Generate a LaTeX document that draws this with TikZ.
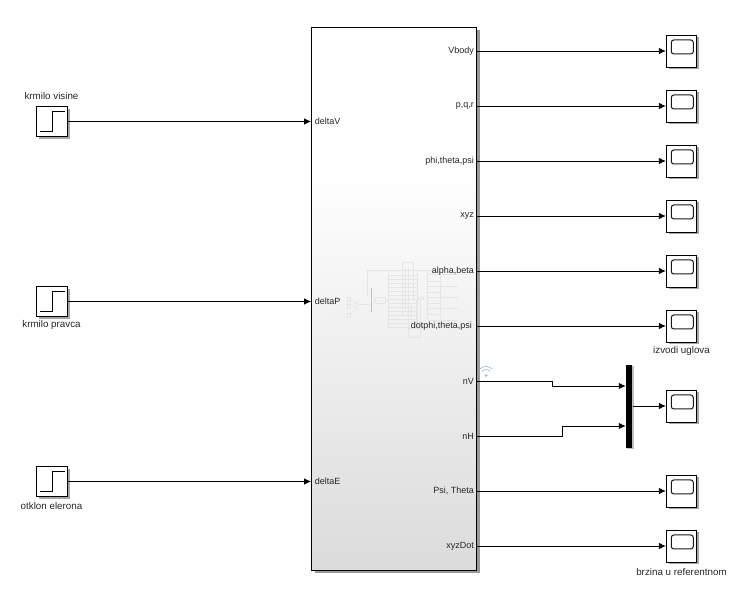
\documentclass[tikz,border=0pt]{standalone}
\usepackage{fontspec}
\setmainfont{Liberation Sans}
\usetikzlibrary{shadows,arrows.meta}
\definecolor{wifiblue}{RGB}{150,190,225}
\pgfdeclareverticalshading{bodyshade}{100bp}{color(0bp)=(black!14); color(25bp)=(black!14); color(62bp)=(white); color(75bp)=(white); color(100bp)=(white)}
\newcommand{\labelfont}{\fontsize{9.8}{12}\selectfont}
\newcommand{\portfont}{\fontsize{9}{11}\selectfont}

\begin{document}
\begin{tikzpicture}[x=1pt,y=-1pt,
    softshadow/.style={drop shadow={shadow xshift=2.5pt,shadow yshift=-2.5pt,opacity=.35,fill=black}},
    stepblock/.style={draw, rectangle, fill=white, minimum width=30.5pt, minimum height=30.5pt, inner sep=0pt, line width=.8pt, softshadow,
        path picture={\draw[line width=.8pt] (path picture bounding box.center) ++(-12,10) -- ++(12.5,0) -- ++(0,-20) -- ++(12.5,0);}},
    scopeblock/.style={draw, rectangle, fill=white, minimum width=30.5pt, minimum height=32pt, inner sep=0pt, line width=.8pt, softshadow,
        path picture={\draw[line width=1pt, rounded corners=2.5pt, black!90] (path picture bounding box.center) ++(-10.2,-11) rectangle ++(22,14);}},
    bodyblock/.style={draw, rectangle, shading=bodyshade, minimum width=165pt, minimum height=543pt, inner sep=0pt, line width=.8pt, drop shadow={shadow xshift=3pt,shadow yshift=-3pt,opacity=.4,fill=black}},
    muxblock/.style={rectangle, fill=black, minimum width=6.5pt, minimum height=83pt, inner sep=0pt, drop shadow={shadow xshift=1.5pt,shadow yshift=-1.5pt,opacity=.25,fill=black}},
    inport/.style={anchor=west, inner xsep=3.5pt, inner ysep=0pt, font=\portfont, text=black!85},
    outport/.style={anchor=east, inner xsep=2.5pt, inner ysep=0pt, font=\portfont, text=black!85},
    blocklabel/.style={inner sep=0pt, font=\labelfont, text=black!85},
    conn/.style={line width=.8pt, -{Latex[length=7pt,width=6.5pt]}},
    thumb/.style={line width=.4pt, black!10},
    wifi/.style={line width=.7pt, wifiblue}]
    \useasboundingbox (0,0) rectangle (756,609);

    % Big subsystem
    \node[bodyblock] (body) at (394,298.5) {};

    % Thumbnail inside the subsystem
    \draw[thumb] (347,297) rectangle (350,301) (347,304) rectangle (350,308) (347,313) rectangle (350,317);
    \draw[thumb] (328,305) -- (347,305) (328,315) -- (347,315) (350,299) -- (356,304) (350,306) -- (356,306) (350,315) -- (356,308);
    \draw[thumb] (356,301) -- (356,309) (358,304) -- (370,304);
    \draw[thumb, black!25] (370.7,288) -- (370.7,312);
    \draw[thumb] (367,270) -- (433,270) (367,270) -- (367,296) (375,297) rectangle (385,303) (371,300) -- (375,300) (385,300) -- (388,300);
    \draw[thumb] (388,273) -- (388,327) (417,273) -- (417,327);
    \draw[thumb] (388,275) -- (417,275) (388,279) -- (417,279) (388,283) -- (417,283) (388,287) -- (417,287) (388,291) -- (417,291) (388,295) -- (417,295);
    \draw[thumb] (388,299) -- (417,299) (388,303) -- (417,303) (388,307) -- (417,307) (388,311) -- (417,311) (388,315) -- (417,315) (388,319) -- (417,319) (388,323) -- (417,323) (388,327) -- (417,327);
    \draw[thumb] (402,262) -- (413,262) (402,262) -- (402,315) (413,262) -- (413,300) (405,268) -- (405,310) (408,268) -- (408,328) (411,305) -- (411,328) (416,300) -- (416,328);
    \draw[thumb] (408,328) rectangle (420,337) (420,300) -- (420,328);
    \draw[thumb] (418,297) rectangle (423,299) (427,272) -- (427,320) (440,272) -- (440,320);
    \draw[thumb] (428,274) -- (458,274) (428,281) -- (440,281) (428,286) -- (458,286) (428,292) -- (440,292) (428,297) -- (458,297) (428,303) -- (440,303) (428,308) -- (458,308) (428,314) -- (440,314) (428,320) -- (458,320);

    % Inputs
    \node[stepblock] (step-1) at (52,121.5) {};
    \node[stepblock] (step-2) at (52,301.5) {};
    \node[stepblock] (step-3) at (52,481.5) {};
    \node[blocklabel] (label-1) at (51.5,96.5) {krmilo visine};
    \node[blocklabel] (label-2) at (51.5,325) {krmilo pravca};
    \node[blocklabel] (label-3) at (51.5,506) {otklon elerona};
    \node[inport] (deltaV) at (body.west |- step-1) {deltaV};
    \node[inport] (deltaP) at (body.west |- step-2) {deltaP};
    \node[inport] (deltaE) at (body.west |- step-3) {deltaE};

    % Outputs
    \node[outport] (Vbody) at (476.5,51) {Vbody};
    \node[outport] (pqr) at (476.5,106) {p,q,r};
    \node[outport] (euler) at (476.5,161) {phi,theta,psi};
    \node[outport] (xyz) at (476.5,216) {xyz};
    \node[outport] (alphabeta) at (476.5,271) {alpha,beta};
    \node[outport] (doteuler) at (476.5,326) {dotphi,theta,psi\kern2pt};
    \node[outport] (nV) at (476.5,381) {nV};
    \node[outport] (nH) at (476.5,436) {nH};
    \node[outport] (psitheta) at (476.5,491) {Psi, Theta};
    \node[outport] (xyzDot) at (476.5,546) {xyzDot};

    % Scopes
    \node[scopeblock] (scope-1) at (681.5,51) {};
    \node[scopeblock] (scope-2) at (681.5,106) {};
    \node[scopeblock] (scope-3) at (681.5,161) {};
    \node[scopeblock] (scope-4) at (681.5,216) {};
    \node[scopeblock] (scope-5) at (681.5,271) {};
    \node[scopeblock] (scope-6) at (681.5,326) {};
    \node[scopeblock] (scope-7) at (681.5,406) {};
    \node[scopeblock] (scope-8) at (681.5,491) {};
    \node[scopeblock] (scope-9) at (681.5,546) {};
    \node[blocklabel] (label-4) at (681.5,351) {izvodi uglova};
    \node[blocklabel] (label-5) at (681.5,572) {brzina u referentnom};

    % Mux
    \node[muxblock] (mux) at (629.2,406.5) {};
    \coordinate (mux-in-1) at (mux.west |- 0,386);
    \coordinate (mux-in-2) at (mux.west |- 0,426);

    % Wireless mark next to nV
    \fill[wifiblue] (486,375.5) circle (1.5pt);
    \draw[wifi] (481.8,371.3) arc[start angle=-135, end angle=-45, radius=6];
    \draw[wifi] (479.6,369.1) arc[start angle=-135, end angle=-45, radius=9];

    % Connectors
    \draw[conn] (step-1) -- (deltaV.west);
    \draw[conn] (step-2) -- (deltaP.west);
    \draw[conn] (step-3) -- (deltaE.west);
    \draw[conn] (Vbody.east) -- (scope-1);
    \draw[conn] (pqr.east) -- (scope-2);
    \draw[conn] (euler.east) -- (scope-3);
    \draw[conn] (xyz.east) -- (scope-4);
    \draw[conn] (alphabeta.east) -- (scope-5);
    \draw[conn] (doteuler.east) -- (scope-6);
    \draw[conn] (nV.east) -- ++(76,0) |- (mux-in-1);
    \draw[conn] (nH.east) -- ++(86,0) |- (mux-in-2);
    \draw[conn] (mux.east |- scope-7) -- (scope-7);
    \draw[conn] (psitheta.east) -- (scope-8);
    \draw[conn] (xyzDot.east) -- (scope-9);
\end{tikzpicture}
\end{document}
